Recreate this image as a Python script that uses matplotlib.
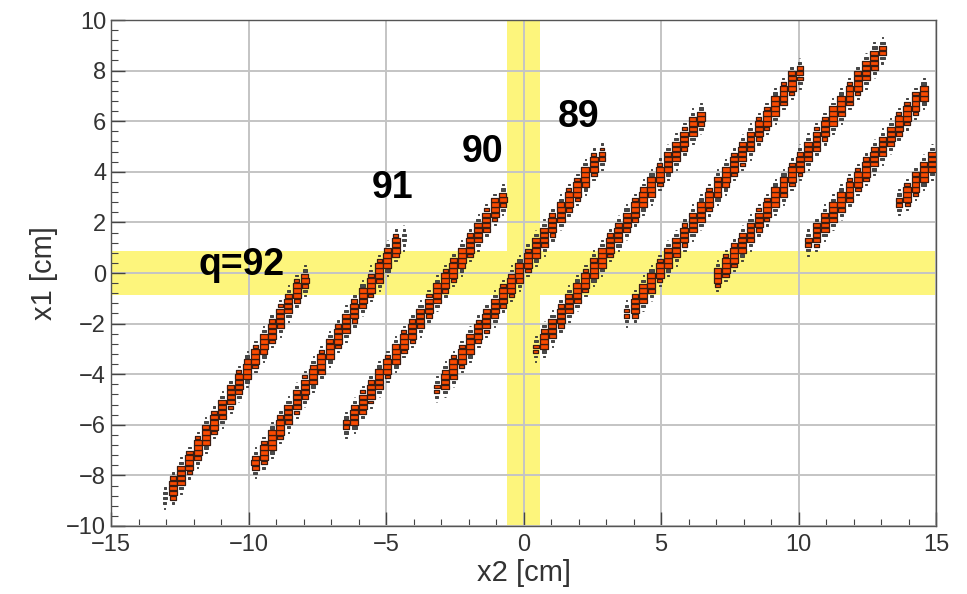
import matplotlib.pyplot as plt
import numpy as np
from matplotlib.patches import Rectangle
from matplotlib.collections import PatchCollection

plt.rcParams['font.family'] = ['Liberation Sans', 'DejaVu Sans']

# band end points, (x2, x1) in cm
band_x2_start = [-13.0, -9.8, -6.45, -3.15, 0.45, 3.75, 6.95, 10.35, 13.65]
band_x1_start = [-8.95, -7.7, -6.1, -4.7, -3.1, -1.75, -0.35, 1.1, 2.7]
band_x2_end = [-7.9, -4.4, -0.7, 2.85, 6.5, 10.05, 13.05, 14.65, 15.0]
band_x1_end = [-0.1, 1.5, 3.1, 4.75, 6.3, 8.0, 8.9, 7.3, 4.6]

# charge state labels
label_text = ['q=92', '91', '90', '89']
label_x2 = [-10.25, -4.75, -1.5, 2.0]
label_x1 = [0.3, 3.35, 4.8, 6.15]

# yellow acceptance strips (half widths)
strip_x2_half = 0.6
strip_x1_half = 0.85

# histogram binning
bin_w = 0.3
bin_h = 0.2
sigma = 0.3

x2_centers = -15 + bin_w / 2 + bin_w * np.arange(100)
x1_centers = -10 + bin_h / 2 + bin_h * np.arange(100)

cells = []
for xa, ya, xb, yb in zip(band_x2_start, band_x1_start, band_x2_end, band_x1_end):
    slope = (yb - ya) / (xb - xa)
    for xc in x2_centers:
        if xc < xa - bin_w or xc > xb + bin_w:
            continue
        xs = xc + np.linspace(-bin_w / 2, bin_w / 2, 9)
        inside = (xs >= xa) & (xs <= xb)
        if not inside.any():
            continue
        line = ya + slope * (xs - xa)
        for yc in x1_centers:
            c = np.mean(inside * np.exp(-0.5 * ((yc - line) / sigma) ** 2))
            if c > 0:
                cells.append((xc, yc, c))

cmax = max(c for _, _, c in cells)
big, small = [], []
for xc, yc, c in cells:
    f = c / cmax
    if f < 0.08:
        continue
    s = min(f * 1.5, 1.0)
    w = bin_w * s * 0.95
    h = bin_h * s * 0.9
    r = Rectangle((xc - w / 2, yc - h / 2), w, h)
    (big if f > 0.4 else small).append(r)

fig = plt.figure(figsize=(9.67, 5.94), dpi=100)
ax = fig.add_axes([0.1148, 0.1145, 0.8532, 0.8518])

ax.axvspan(-strip_x2_half, strip_x2_half, color='#fdf57c', lw=0, zorder=0)
ax.axhspan(-strip_x1_half, strip_x1_half, color='#fdf57c', lw=0, zorder=0)

ax.grid(True, color='#c4c4c4', lw=1.4, zorder=1)
ax.set_axisbelow(True)

ax.add_collection(PatchCollection(small, facecolor='#4a4a4a', edgecolor='#333333',
                                  lw=0.6, zorder=3))
ax.add_collection(PatchCollection(big, facecolor='#fa4a00', edgecolor='#3a1c12',
                                  lw=0.9, zorder=3))

for t, x, y in zip(label_text, label_x2, label_x1):
    ax.text(x, y, t, fontsize=27, fontweight='bold', ha='center', va='center', zorder=5)

ax.set_xlim(-15, 15)
ax.set_ylim(-10, 10)
ax.set_xticks(np.arange(-15, 16, 5))
ax.set_yticks(np.arange(-10, 11, 2))
ax.set_xticks(np.arange(-15, 15.1, 1), minor=True)
ax.set_yticks(np.arange(-10, 10.01, 0.4), minor=True)
ax.set_xticklabels([str(v).replace('-', '\u2212') for v in range(-15, 16, 5)])
ax.set_yticklabels([str(v).replace('-', '\u2212') for v in range(-10, 11, 2)])
ax.tick_params(which='both', direction='in', colors='#444444', labelcolor='#333333',
               labelsize=17, top=False, right=False)
ax.tick_params(which='major', length=10, width=1)
ax.tick_params(which='minor', length=5, width=0.8)
ax.tick_params(axis='x', pad=6)
for s in ax.spines.values():
    s.set_color('#555555')
    s.set_linewidth(1.0)

ax.set_xlabel('x2 [cm]', fontsize=21, color='#333333', labelpad=2)
ax.set_ylabel('x1 [cm]', fontsize=21, color='#333333', labelpad=6)

fig.savefig('out.png', dpi=100)
